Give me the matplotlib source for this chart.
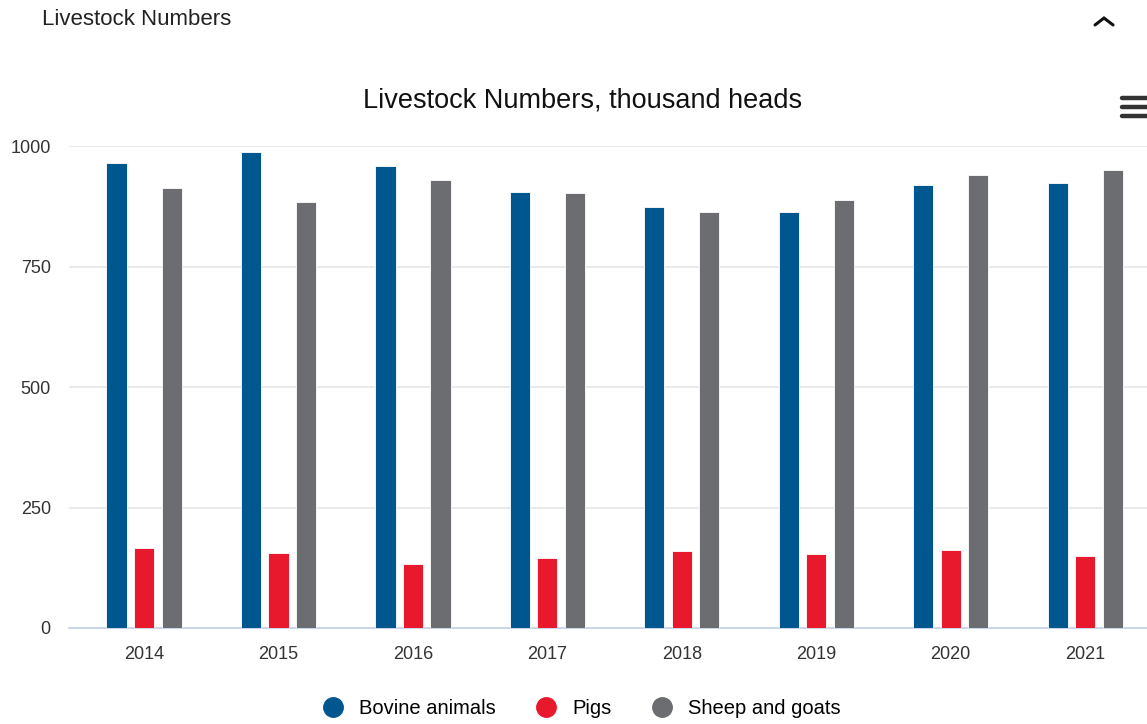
import matplotlib

matplotlib.use("Agg")
import matplotlib.pyplot as plt
from matplotlib.lines import Line2D
import numpy as np

plt.rcParams["font.family"] = ["Liberation Sans", "DejaVu Sans"]

# Poголовье по годам, тыс. голов
years = ["2014", "2015", "2016", "2017", "2018", "2019", "2020", "2021"]
bovine = [966, 988, 960, 906, 874, 863, 919, 924]
pigs = [166, 156, 132, 145, 160, 153, 163, 150]
sheep_goats = [913, 885, 930, 903, 863, 888, 941, 952]

series = [
    ("Bovine animals", bovine, "#00568f"),
    ("Pigs", pigs, "#e8192c"),
    ("Sheep and goats", sheep_goats, "#6b6d71"),
]

fig = plt.figure(figsize=(11.47, 7.24), dpi=100)
ax = fig.add_axes([0.060, 0.1326, 0.940, 0.6651])

x = np.arange(len(years))
width = 0.15
offset = 0.205
for i, (name, values, color) in enumerate(series):
    ax.bar(x + (i - 1) * offset, values, width, color=color,
           edgecolor="#ffffff", linewidth=0.6, zorder=3)

ax.set_ylim(0, 1000)
ax.set_xlim(-0.56, 7.46)
ax.set_yticks([0, 250, 500, 750, 1000])
ax.set_xticks(x)
ax.set_xticklabels(years)
ax.tick_params(axis="both", length=0, labelsize=13, colors="#333333")
ax.tick_params(axis="x", pad=13)
ax.tick_params(axis="y", pad=13)
ax.grid(axis="y", color="#e6e6e6", linewidth=1.2, zorder=0)
for side in ["top", "right", "left"]:
    ax.spines[side].set_visible(False)
ax.spines["bottom"].set_color("#ccd6eb")
ax.spines["bottom"].set_linewidth(1.5)

fig.text(0.5075, 0.861, "Livestock Numbers, thousand heads",
         ha="center", va="center", fontsize=19.5, color="#111111")
fig.text(0.037, 0.973, "Livestock Numbers", ha="left", va="center",
         fontsize=16, color="#222222")
# Шеврон сворачивания и меню
fig.add_artist(Line2D([0.9547, 0.9625, 0.9704], [0.9655, 0.9751, 0.9655],
                      color="#111111", linewidth=2.2,
                      solid_capstyle="round", solid_joinstyle="miter"))
for y in [0.864, 0.852, 0.840]:
    fig.add_artist(Line2D([0.978, 1.0], [y, y], color="#333333",
                          linewidth=3.2, solid_capstyle="round"))

handles = [Line2D([], [], marker="o", linestyle="", markersize=14,
                  markerfacecolor=c, markeredgecolor=c) for _, _, c in series]
fig.legend(handles, [s[0] for s in series], loc="center",
           bbox_to_anchor=(0.503, 0.021), ncol=3, frameon=False,
           fontsize=14.5, handletextpad=0.3, columnspacing=1.5)

fig.savefig("out.png", dpi=100, facecolor="white")
